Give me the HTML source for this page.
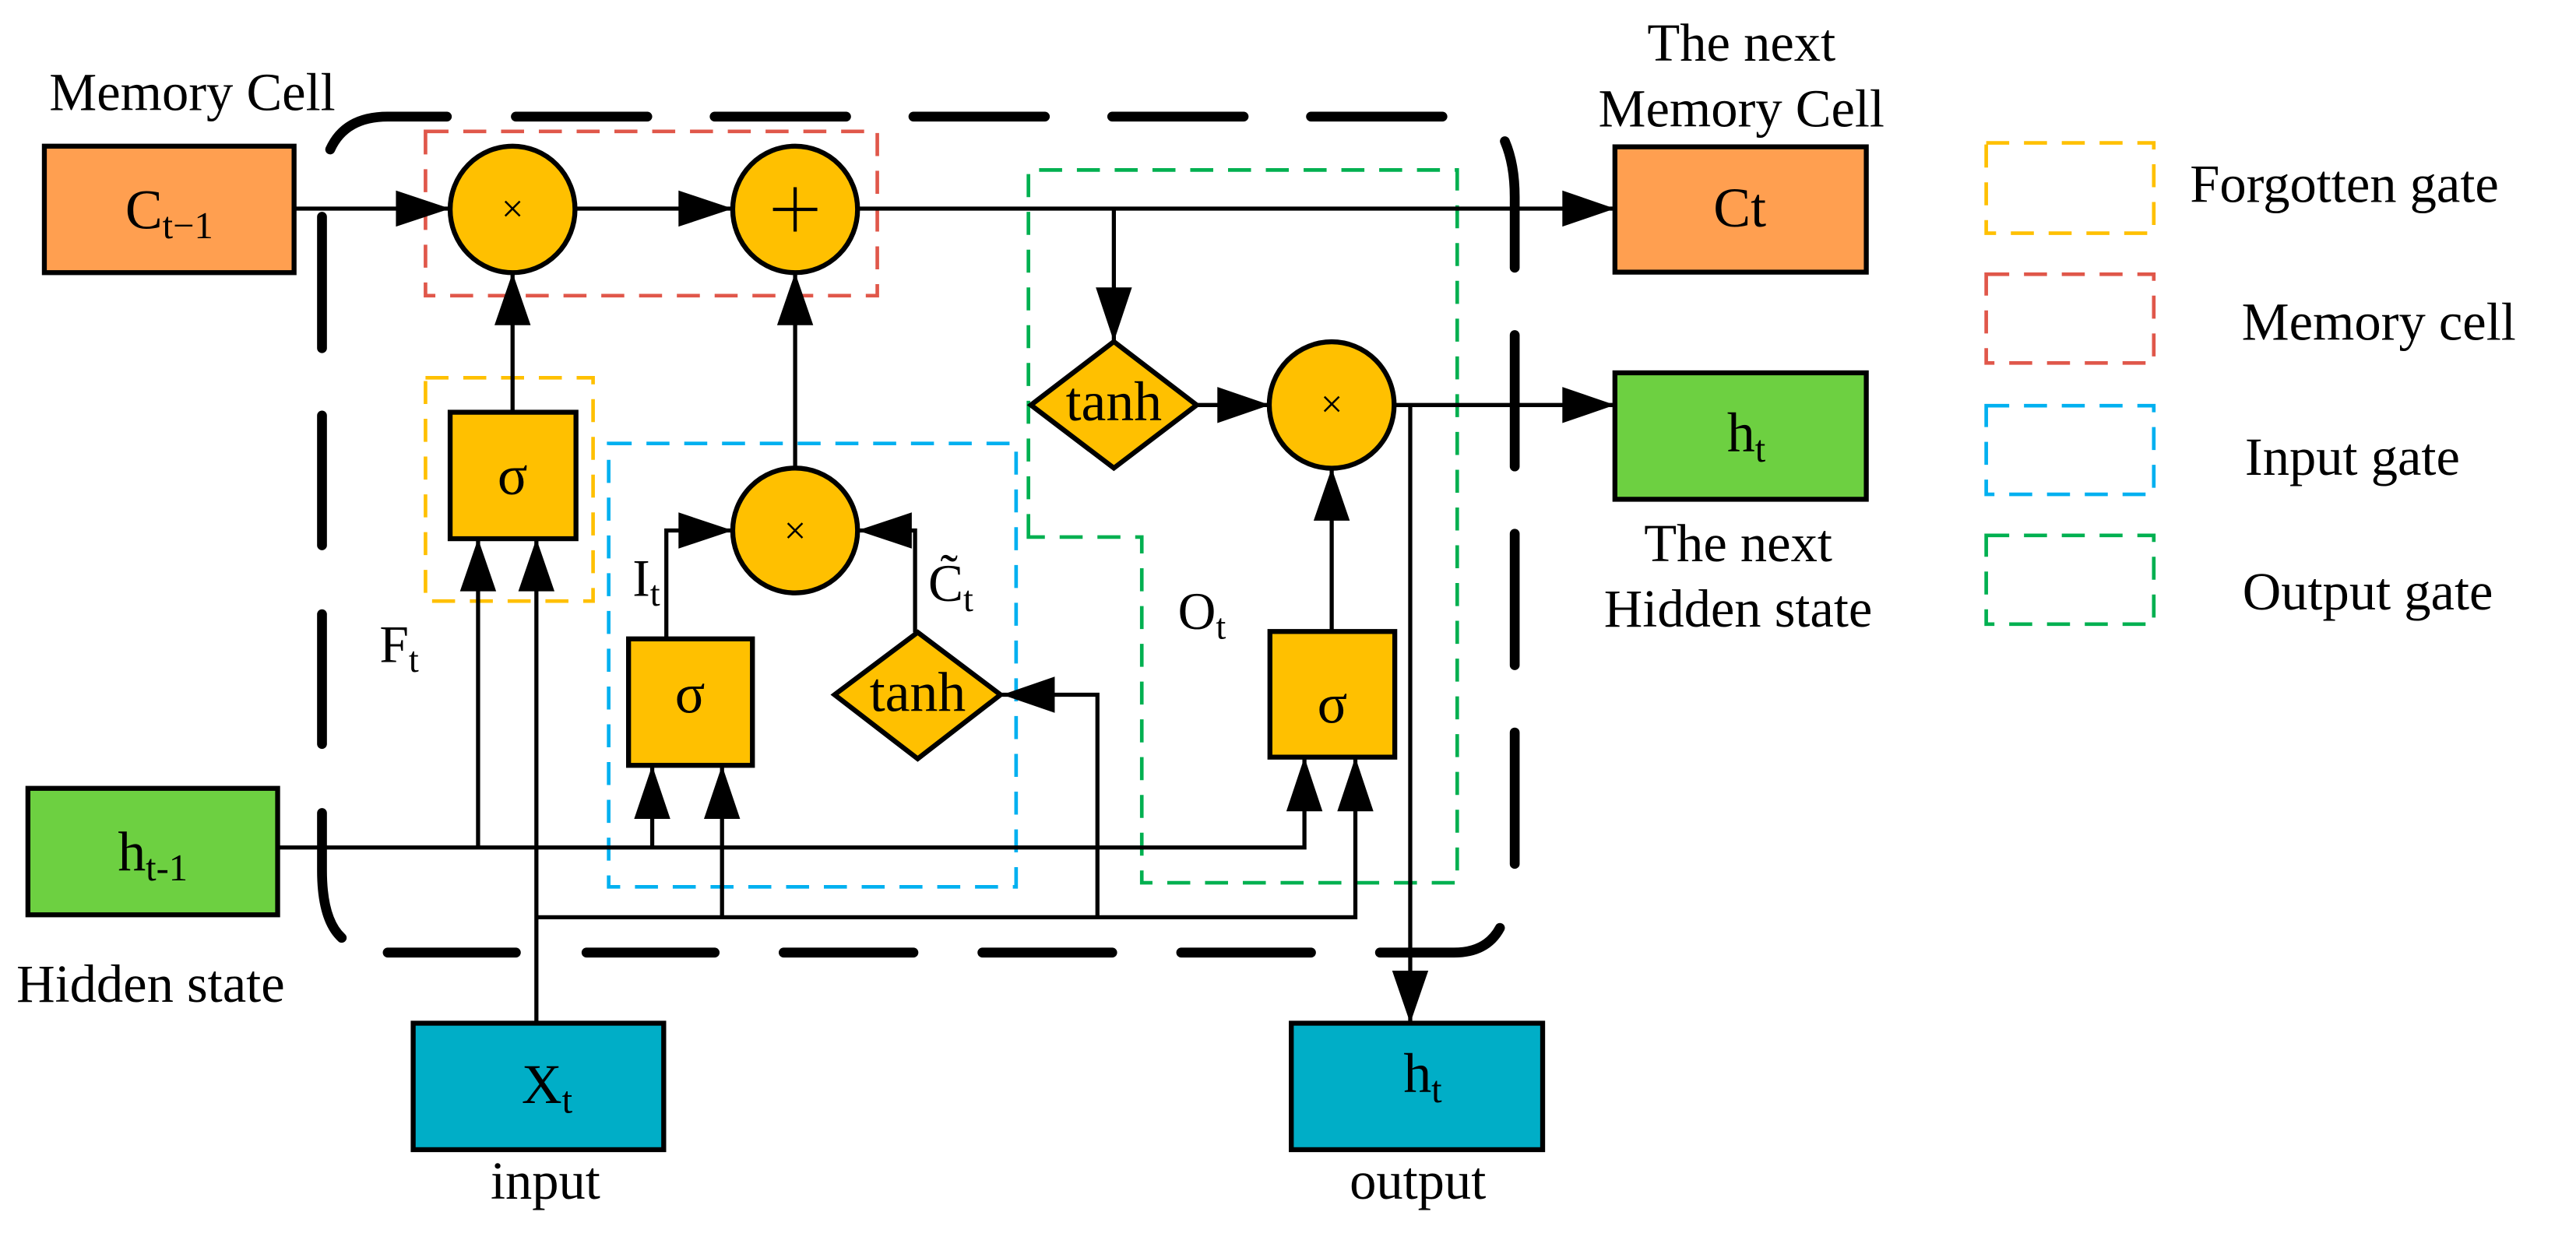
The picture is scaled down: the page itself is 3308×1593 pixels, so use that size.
<!DOCTYPE html>
<html><head><meta charset="utf-8"><style>
html,body{margin:0;padding:0;background:#fff;}
svg{display:block;}
text{font-family:"Liberation Serif",serif;fill:#000;}
</style></head><body>
<svg width="3308" height="1593" viewBox="0 0 1568 755" preserveAspectRatio="none" xmlns="http://www.w3.org/2000/svg">
<rect width="1568" height="755" fill="#fff"/>
<!-- outer frame -->
<g stroke="#000" stroke-width="6" stroke-linecap="round" fill="none">
<path d="M201 91 Q210 71 236 71 L272 71"/>
<path d="M314 71H394M435 71H515M556 71H636M677 71H757M798 71H878"/>
<path d="M916 86 Q922 100 922 120 L922 163"/>
<path d="M922 204V284M922 325V405M922 446V526"/>
<path d="M913 565 Q905 580 885 580 L840 580"/>
<path d="M236 580H314M357 580H435M477 580H556M598 580H677M719 580H798"/>
<path d="M196 132V212M196 253V332M196 374V453M196 495V530 Q196 560 208 571"/>
</g>
<!-- colored dashed boxes -->
<g fill="none" stroke-width="2.2" stroke-dasharray="14 9">
<rect x="259" y="80" width="275" height="100" stroke="#E0574A"/>
<rect x="259" y="230" width="102" height="136" stroke="#FFC000"/>
<rect x="370.5" y="270" width="248" height="270" stroke="#00B0F0"/>
<path d="M626 327V103.5H887V537.5H695V327Z" stroke="#00B050"/>
<rect x="1209" y="87" width="102" height="55" stroke="#FFC000"/>
<rect x="1209" y="167" width="102" height="54" stroke="#E0574A"/>
<rect x="1209" y="247" width="102" height="54" stroke="#00B0F0"/>
<rect x="1209" y="326" width="102" height="54" stroke="#00B050"/>
</g>
<!-- connector lines -->
<g stroke="#000" stroke-width="2.5" fill="none">
<path d="M179 127H274M350 127H446M522 127H983"/>
<path d="M678 127V208"/>
<path d="M312 251V166"/>
<path d="M484 285V166"/>
<path d="M405.6 389V323H446"/>
<path d="M557 385V323H522"/>
<path d="M169 516H794V461"/>
<path d="M291 516V328"/>
<path d="M397 516V466"/>
<path d="M326.5 623V328"/>
<path d="M326.5 558.5H825V461"/>
<path d="M439.5 558.5V466"/>
<path d="M668 558.5V423H610"/>
<path d="M728 246.6H773"/>
<path d="M810.6 384.5V285"/>
<path d="M849 246.6H983"/>
<path d="M858.4 246.6V623"/>
</g>
<!-- arrowheads -->
<g fill="#000">
<polygon points="274,127 241,116 241,138"/>
<polygon points="446,127 413,116 413,138"/>
<polygon points="983,127 951,116 951,138"/>
<polygon points="983,246.6 951,235.6 951,257.6"/>
<polygon points="678,208 667,175 689,175"/>
<polygon points="312,166 301,198 323,198"/>
<polygon points="484,166 473,198 495,198"/>
<polygon points="446,323 413,312 413,334"/>
<polygon points="522,323 555,312 555,334"/>
<polygon points="291,328 280,360 302,360"/>
<polygon points="326.5,328 315.5,360 337.5,360"/>
<polygon points="397,466 386,498.6 408,498.6"/>
<polygon points="439.5,466 428.5,498.6 450.5,498.6"/>
<polygon points="794,461 783,494 805,494"/>
<polygon points="825,461 814,494 836,494"/>
<polygon points="610,423 642,412 642,434"/>
<polygon points="773,246.6 741,235.6 741,257.6"/>
<polygon points="810.6,285 799.6,317 821.6,317"/>
<polygon points="858.4,623 847.4,591 869.4,591"/>
</g>
<!-- boxes -->
<g stroke="#000" stroke-width="3">
<rect x="27" y="89" width="152" height="77" fill="#FF9F50"/>
<rect x="983" y="89.4" width="153" height="76.3" fill="#FF9F50"/>
<rect x="17" y="480" width="152" height="77" fill="#6DD041"/>
<rect x="983" y="227" width="153" height="77" fill="#6DD041"/>
<rect x="251.5" y="623" width="152.5" height="77" fill="#00AEC7"/>
<rect x="786" y="623" width="153" height="77" fill="#00AEC7"/>
<rect x="274" y="251" width="76.6" height="77" fill="#FFC000"/>
<rect x="382.6" y="389" width="75.4" height="77" fill="#FFC000"/>
<rect x="773" y="384.5" width="76" height="76.5" fill="#FFC000"/>
<ellipse cx="312" cy="127.5" rx="38" ry="38.5" fill="#FFC000"/>
<ellipse cx="484" cy="127.5" rx="38" ry="38.5" fill="#FFC000"/>
<ellipse cx="484" cy="323" rx="38" ry="38" fill="#FFC000"/>
<ellipse cx="810.6" cy="246.6" rx="38" ry="38.5" fill="#FFC000"/>
<polygon points="678,208 728.4,246.6 678,285 627.5,246.6" fill="#FFC000"/>
<polygon points="558.6,385 609,423 558.6,462 508,423" fill="#FFC000"/>
</g>
<g stroke="#000" stroke-width="2"><path d="M484 114V141M470.5 127.5H497.5"/></g>
<!-- symbols -->
<g font-size="24" text-anchor="middle">
<text x="312" y="135">×</text>
<text x="484" y="331">×</text>
<text x="810.6" y="254">×</text>
</g>
<g font-size="34" text-anchor="middle">
<text x="312" y="301">σ</text>
<text x="420" y="434">σ</text>
<text x="811" y="440">σ</text>
<text x="678" y="256">tanh</text>
<text x="558.6" y="433">tanh</text>
<text x="103" y="139">C<tspan font-size="23" dy="6">t−1</tspan></text>
<text x="1059" y="138">Ct</text>
<text x="93" y="530">h<tspan font-size="23" dy="6">t-1</tspan></text>
<text x="1063" y="275">h<tspan font-size="23" dy="6">t</tspan></text>
<text x="333" y="671.5">X<tspan font-size="23" dy="6">t</tspan></text>
<text x="866" y="665">h<tspan font-size="23" dy="6">t</tspan></text>
</g>
<g font-size="32">
<text x="231" y="403">F<tspan font-size="22" dy="6">t</tspan></text>
<text x="385" y="362.7">I<tspan font-size="22" dy="6">t</tspan></text>
<text x="565" y="366">C̃<tspan font-size="22" dy="6">t</tspan></text>
<text x="717" y="383">O<tspan font-size="22" dy="6">t</tspan></text>
</g>
<g font-size="32.5">
<text x="30" y="67">Memory Cell</text>
<text x="1060" y="37" text-anchor="middle">The next</text>
<text x="1060" y="77" text-anchor="middle">Memory Cell</text>
<text x="1058" y="341.7" text-anchor="middle">The next</text>
<text x="1058" y="381.5" text-anchor="middle">Hidden state</text>
<text x="10" y="610">Hidden state</text>
<text x="332" y="730" text-anchor="middle">input</text>
<text x="863" y="730" text-anchor="middle">output</text>
<text x="1333" y="123">Forgotten gate</text>
<text x="1364.5" y="207">Memory cell</text>
<text x="1366.5" y="289">Input gate</text>
<text x="1365" y="371">Output gate</text>
</g>
</svg>
</body></html>
